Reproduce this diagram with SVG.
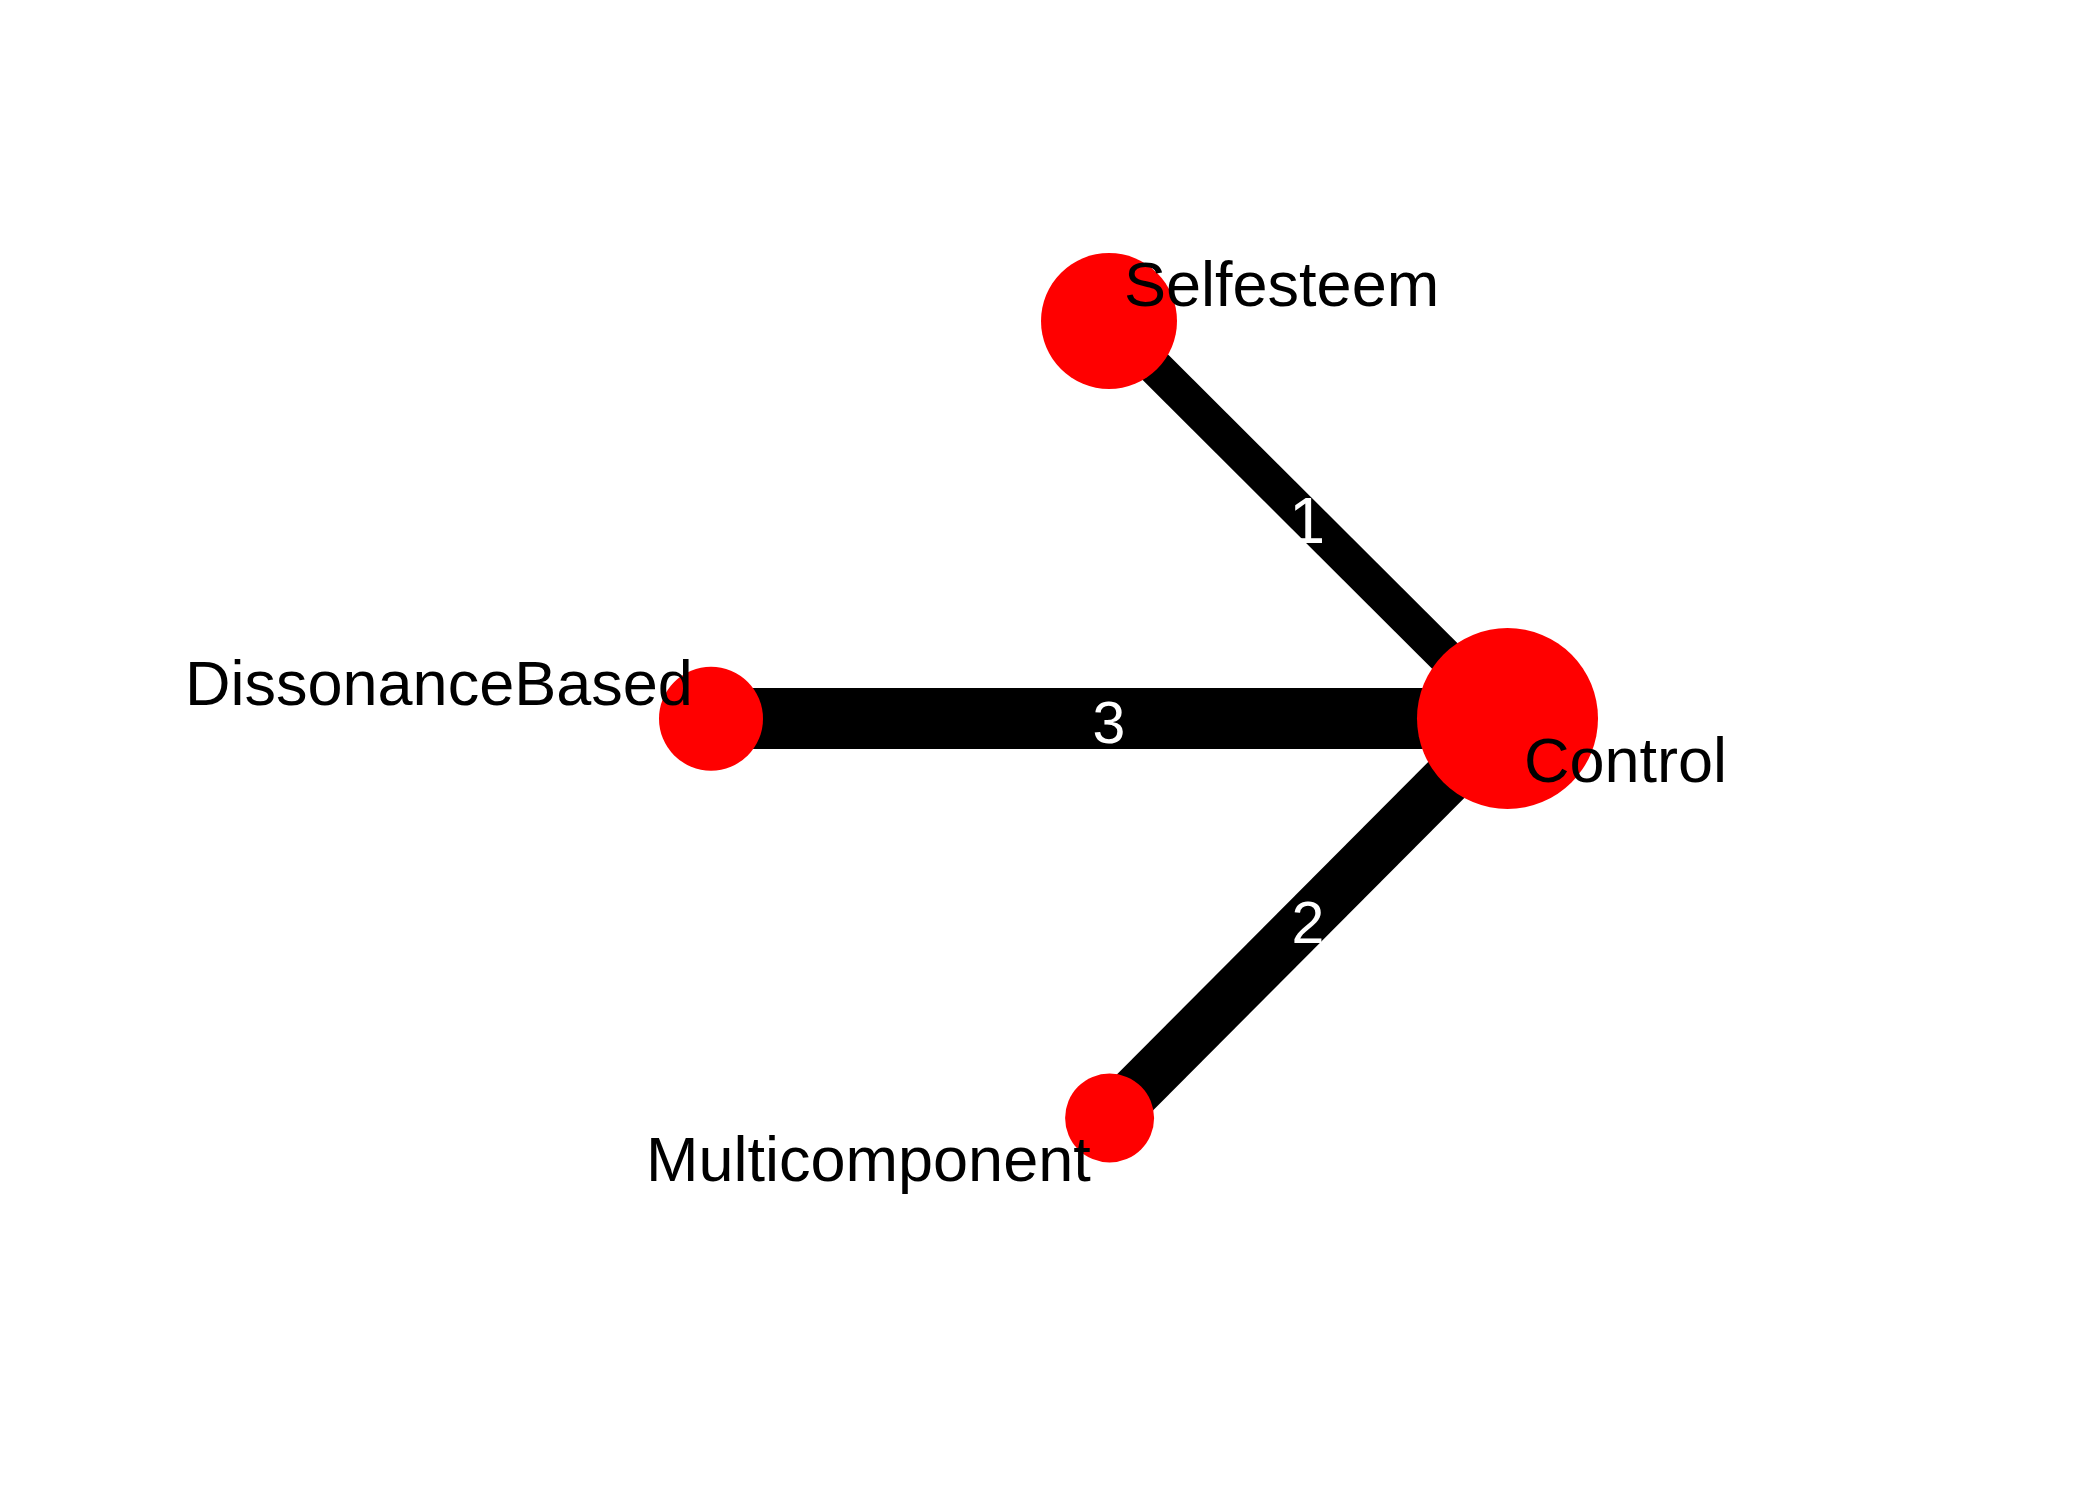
<svg xmlns="http://www.w3.org/2000/svg" width="2100" height="1500" viewBox="0 0 2100 1500">
<style>
.node{fill:#ff0000}
.lbl{font-family:"Liberation Sans",Arial,sans-serif;font-size:63px;fill:#000}
.edge{stroke:#000;fill:none}
.elbl{font-family:"Liberation Sans",Arial,sans-serif;font-size:59px;fill:#fff;text-anchor:middle}
</style>
<rect width="2100" height="1500" fill="#fff"/>
<g id="connectors">
<line class="edge" x1="1109" y1="321" x2="1507.5" y2="718.5" stroke-width="36"/>
<line class="edge" x1="711" y1="718.5" x2="1507.5" y2="718.5" stroke-width="61"/>
<line class="edge" x1="1109.5" y1="1118" x2="1507.5" y2="718.5" stroke-width="51"/>
</g>
<g id="node-selfesteem"><circle class="node" cx="1109" cy="321" r="68"/><text class="lbl" x="1124" y="306">Selfesteem</text></g>
<g id="node-control"><circle class="node" cx="1507.5" cy="718.5" r="90.5"/><text class="lbl" x="1524" y="782">Control</text></g>
<g id="node-dissonancebased"><circle class="node" cx="711" cy="718.7" r="52"/><text class="lbl" x="185" y="705">DissonanceBased</text></g>
<g id="node-multicomponent"><circle class="node" cx="1109.6" cy="1118" r="44.5"/><text class="lbl" x="646" y="1181">Multicomponent</text></g>
<g id="edge-labels">
<text class="elbl" x="1307" y="543" style="font-size:65px">1</text>
<text class="elbl" x="1308" y="943">2</text>
<text class="elbl" x="1109" y="743">3</text>
</g>
</svg>
